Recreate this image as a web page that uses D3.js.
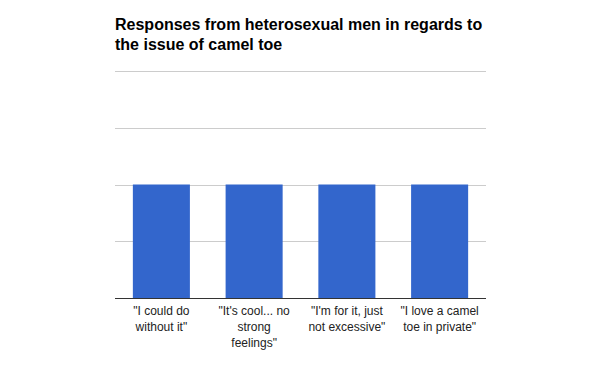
<!DOCTYPE html>
<html><head><meta charset="utf-8">
<script src="https://cdn.jsdelivr.net/npm/d3@7"></script>
<style>body{margin:0;background:#fff}</style>
</head><body>
<svg id="c" width="600" height="371"></svg>
<script>
const title = ["Responses from heterosexual men in regards to", "the issue of camel toe"];
const categories = ["\"I could do without it\"", "\"It's cool... no strong feelings\"", "\"I'm for it, just not excessive\"", "\"I love a camel toe in private\""];
const labelLines = [["\"I could do", "without it\""], ["\"It's cool... no", "strong", "feelings\""], ["\"I'm for it, just", "not excessive\""], ["\"I love a camel", "toe in private\""]];
const values = [2, 2, 2, 2];
const yTicks = [0, 1, 2, 3, 4];

const svg = d3.select("#c");
const m = {left: 115, right: 486, top: 71, bottom: 298};
const x = d3.scaleBand().domain(categories).range([m.left, m.right]).paddingInner(0.385).paddingOuter(0.1925);
const y = d3.scaleLinear().domain([0, 4]).range([m.bottom, m.top]);

svg.append("g").selectAll("text").data(title).join("text")
  .attr("x", 115).attr("y", (d, i) => 30 + i * 20)
  .attr("font-family", "Liberation Sans, Arial, sans-serif")
  .attr("font-size", 16).attr("font-weight", "bold").attr("fill", "#000")
  .text(d => d);

svg.append("g").selectAll("line").data(yTicks.filter(t => t > 0)).join("line")
  .attr("x1", m.left).attr("x2", m.right)
  .attr("y1", d => Math.round(y(d)) + 0.5).attr("y2", d => Math.round(y(d)) + 0.5)
  .attr("stroke", "#cccccc").attr("stroke-width", 1);

svg.append("g").selectAll("rect").data(values).join("rect")
  .attr("x", (d, i) => x(categories[i])).attr("width", x.bandwidth())
  .attr("y", d => y(d)).attr("height", d => y(0) - y(d))
  .attr("fill", "#3366cc");

svg.append("line").attr("x1", m.left).attr("x2", m.right)
  .attr("y1", y(0) + 0.5).attr("y2", y(0) + 0.5)
  .attr("stroke", "#333333").attr("stroke-width", 1);

const lg = svg.append("g");
labelLines.forEach((lines, i) => {
  const cx = x(categories[i]) + x.bandwidth() / 2;
  lg.append("text").attr("text-anchor", "middle")
    .attr("font-family", "Liberation Sans, Arial, sans-serif").attr("font-size", 12).attr("fill", "#222")
    .selectAll("tspan").data(lines).join("tspan")
    .attr("x", cx).attr("y", (d, j) => 315 + j * 16).text(d => d);
});
</script>
</body></html>
